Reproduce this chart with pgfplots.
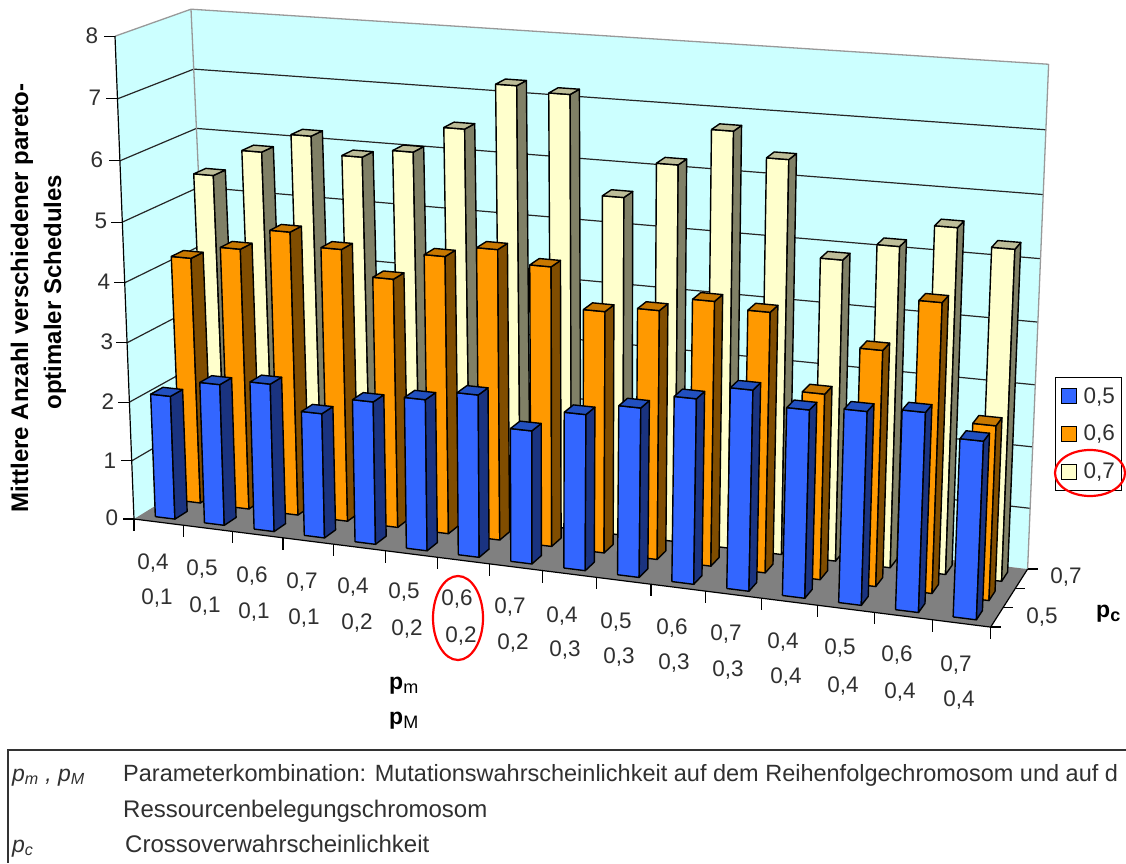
\documentclass[border=0pt]{standalone}
\usepackage{pgfplots}
\usepackage{pgfplotstable}
\usepackage{fontspec}
\setmainfont{Liberation Sans}
\pgfplotsset{compat=1.18}
\definecolor{wallc}{HTML}{CCFFFF}
\definecolor{floorc}{HTML}{808080}
\definecolor{bluef}{HTML}{3366FF}
\definecolor{blues}{HTML}{1A3380}
\definecolor{bluet}{HTML}{2250C0}
\definecolor{orf}{HTML}{FF9900}
\definecolor{ors}{HTML}{804D00}
\definecolor{ort}{HTML}{C87800}
\definecolor{crf}{HTML}{FFFFCC}
\definecolor{crs}{HTML}{808066}
\definecolor{crt}{HTML}{BDBD98}
\definecolor{txt}{HTML}{303030}
% heights: u = category index
\pgfplotstableread{
u blue orange cream
0 2.10 4.20 5.39
1 2.39 4.43 5.85
2 2.49 4.79 6.18
3 2.09 4.58 5.90
4 2.38 4.17 6.05
5 2.51 4.62 6.49
6 2.68 4.81 7.25
7 2.19 4.61 7.17
8 2.55 3.97 5.59
9 2.75 4.07 6.18
10 2.99 4.30 6.78
11 3.22 4.21 6.40
12 3.00 3.00 4.89
13 3.07 3.78 5.18
14 3.15 4.61 5.55
15 2.80 2.78 5.29
}\datatable
% perspective projection of the Excel 3D box: #1 category, #2 depth 0..1, #3 value 0..8
\newcommand\pr[3]{%
 \pgfmathsetmacro\ss{0.0571*(#1)/(1-0.00544*(#1))}%
 \pgfmathsetmacro\vv{#2}%
 \pgfmathsetmacro\ww{0.1197*(#3)/(1-0.00525*(#3))}%
 \pgfmathsetmacro\bx{(1-\ss)*(1-\vv)*134+\ss*(1-\vv)*990+\ss*\vv*1027+(1-\ss)*\vv*212}%
 \pgfmathsetmacro\by{(1-\ss)*(1-\vv)*519+\ss*(1-\vv)*627+\ss*\vv*569+(1-\ss)*\vv*471}%
 \pgfmathsetmacro\tx{(1-\ss)*(1-\vv)*115+\ss*(1-\vv)*1012+\ss*\vv*1048+(1-\ss)*\vv*191}%
 \pgfmathsetmacro\ty{(1-\ss)*(1-\vv)*36+\ss*(1-\vv)*99+\ss*\vv*64+(1-\ss)*\vv*9}%
 \pgfmathsetmacro\rx{\bx+(\tx-\bx)*\ww}%
 \pgfmathsetmacro\ry{\by+(\ty-\by)*\ww}%
}
\newcommand\ap[3]{\pr{#1}{#2}{#3}\edef\plist{\plist (\rx,\ry)}}
\newcommand\poly[2]{\edef\tmp{\noexpand\addplot[forget plot,line join=round,#1] coordinates {#2};}\tmp}
\newcommand\drawbar[6]{%
 \pgfmathsetmacro\ua{#1+0.3}\pgfmathsetmacro\ub{#1+0.7}%
 \pgfmathsetmacro\va{#2-0.08}\pgfmathsetmacro\vb{#2+0.08}%
 \def\plist{}\ap\ua\va{0}\ap\ub\va{0}\ap\ub\va{#3}\ap\ua\va{#3}\ap\ua\va{0}%
 \poly{fill=#4,draw=black,line width=1.4pt}{\plist}%
 \def\plist{}\ap\ub\va{0}\ap\ub\vb{0}\ap\ub\vb{#3}\ap\ub\va{#3}\ap\ub\va{0}%
 \poly{fill=#5,draw=black,line width=1.4pt}{\plist}%
 \def\plist{}\ap\ua\va{#3}\ap\ub\va{#3}\ap\ub\vb{#3}\ap\ua\vb{#3}\ap\ua\va{#3}%
 \poly{fill=#6,draw=black,line width=1.4pt}{\plist}%
}
\newcommand\seg[7]{\def\plist{}\ap{#2}{#3}{#4}\ap{#5}{#6}{#7}\poly{#1}{\plist}}
\newcommand\tck[5]{\pr{#1}{#2}{#3}\pgfmathsetmacro\qx{\rx+(#4)}\pgfmathsetmacro\qy{\ry+(#5)}%
 \edef\plist{(\rx,\ry) (\qx,\qy)}\poly{draw=black,line width=1.2pt}{\plist}}
\newcommand\lab[3]{\node[font=\fontsize{22.5}{22.5}\selectfont,text=txt,inner sep=0pt] at (axis cs:#1,#2) {#3};}
\begin{document}
\begin{tikzpicture}
\path[use as bounding box] (0,0) rectangle (1126pt,863pt);
\begin{axis}[
  at={(0,0)},anchor=south west,
  scale only axis,width=1126pt,height=863pt,
  xmin=0,xmax=1126,ymin=0,ymax=863,y dir=reverse,
  axis lines=none,clip=false,
  legend style={at={(axis cs:1055,377)},anchor=north west,draw=black,line width=1pt,
    fill=white,inner xsep=5pt,inner ysep=8pt,row sep=16.5pt,
    font=\fontsize{22.5}{22.5}\selectfont,text=txt,
    /tikz/every odd column/.append style={column sep=5pt}},
]
\addlegendimage{legend image code/.code={\draw[fill=bluef,draw=black,line width=1pt] (0pt,-7.5pt) rectangle (15pt,7.5pt);}}
\addlegendentry{0,5}
\addlegendimage{legend image code/.code={\draw[fill=orf,draw=black,line width=1pt] (0pt,-7.5pt) rectangle (15pt,7.5pt);}}
\addlegendentry{0,6}
\addlegendimage{legend image code/.code={\draw[fill=crf,draw=black,line width=1pt] (0pt,-7.5pt) rectangle (15pt,7.5pt);}}
\addlegendentry{0,7}
% walls and floor
\def\plist{}\ap{0}{0}{0}\ap{0}{1}{0}\ap{0}{1}{8}\ap{0}{0}{8}\ap{0}{0}{0}\poly{fill=wallc,draw=none}{\plist}
\def\plist{}\ap{0}{1}{0}\ap{16}{1}{0}\ap{16}{1}{8}\ap{0}{1}{8}\ap{0}{1}{0}\poly{fill=wallc,draw=none}{\plist}
\def\plist{}\ap{0}{0}{0}\ap{16}{0}{0}\ap{16}{1}{0}\ap{0}{1}{0}\ap{0}{0}{0}\poly{fill=floorc,draw=none}{\plist}
% gridlines
\pgfplotsinvokeforeach{1,...,7}{%
 \seg{draw=black!85,line width=1.2pt}{0}{0}{#1}{0}{1}{#1}%
 \seg{draw=black!85,line width=1.2pt}{0}{1}{#1}{16}{1}{#1}%
}
\seg{draw=black!40,line width=1.3pt}{0}{0}{8}{0}{1}{8}
\seg{draw=black!40,line width=1.3pt}{0}{1}{8}{16}{1}{8}
\seg{draw=black!40,line width=1.3pt}{0}{1}{0}{0}{1}{8}
\seg{draw=black!40,line width=1.3pt}{16}{1}{0}{16}{1}{8}
% bars, back row first
\pgfplotsinvokeforeach{0,...,15}{%
 \pgfplotstablegetelem{#1}{cream}\of\datatable
 \let\hh\pgfplotsretval
 \drawbar{#1}{0.8333}{\hh}{crf}{crs}{crt}%
}
\pgfplotsinvokeforeach{0,...,15}{%
 \pgfplotstablegetelem{#1}{orange}\of\datatable
 \let\hh\pgfplotsretval
 \drawbar{#1}{0.5}{\hh}{orf}{ors}{ort}%
}
\pgfplotsinvokeforeach{0,...,15}{%
 \pgfplotstablegetelem{#1}{blue}\of\datatable
 \let\hh\pgfplotsretval
 \drawbar{#1}{0.1667}{\hh}{bluef}{blues}{bluet}%
}
% box edges and ticks
\seg{draw=black,line width=1.2pt}{0}{0}{0}{0}{0}{8}
\seg{draw=black,line width=1.2pt}{0}{0}{0}{16}{0}{0}
\seg{draw=black,line width=1.2pt}{16}{0}{0}{16}{1}{0}
\pgfplotsinvokeforeach{0,...,8}{\tck{0}{0}{#1}{-11}{0}}
\pgfplotsinvokeforeach{0,...,16}{\tck{#1}{0}{0}{0}{12}}
\tck{16}{0}{0}{10}{0}
\tck{16}{0.3333}{0}{10}{0}
\tck{16}{0.6667}{0}{10}{0}
\tck{16}{1}{0}{10}{0}
% value tick labels
\lab{92}{36}{8}\lab{95}{98}{7}\lab{97}{160}{6}\lab{101}{221}{5}\lab{104}{282}{4}
\lab{107}{342}{3}\lab{108}{402}{2}\lab{110}{461}{1}\lab{112}{518}{0}
% category labels
\lab{153}{563}{0,4}\lab{157}{598}{0,1}
\lab{202}{569}{0,5}\lab{205}{606}{0,1}
\lab{252}{576}{0,6}\lab{254}{612}{0,1}
\lab{302}{582}{0,7}\lab{304}{618}{0,1}
\lab{353}{587}{0,4}\lab{357}{623}{0,2}
\lab{404}{592}{0,5}\lab{407}{629}{0,2}
\lab{457}{599}{0,6}\lab{461}{636}{0,2}
\lab{510}{607}{0,7}\lab{513}{643}{0,2}
\lab{562}{616}{0,4}\lab{565}{650}{0,3}
\lab{616}{622}{0,5}\lab{619}{657}{0,3}
\lab{672}{628}{0,6}\lab{674}{663}{0,3}
\lab{726}{634}{0,7}\lab{728}{670}{0,3}
\lab{783}{642}{0,4}\lab{786}{677}{0,4}
\lab{840}{648}{0,5}\lab{843}{686}{0,4}
\lab{897}{655}{0,6}\lab{900}{692}{0,4}
\lab{956}{665}{0,7}\lab{959}{700}{0,4}
\lab{1066}{577}{0,7}\lab{1042}{617}{0,5}
% axis titles
\node[rotate=90,font=\fontsize{24}{24}\selectfont\bfseries,inner sep=0pt] at (axis cs:22,298) {Mittlere Anzahl verschiedener pareto-};
\node[rotate=90,font=\fontsize{24}{24}\selectfont\bfseries,inner sep=0pt] at (axis cs:55,292) {optimaler Schedules};
\node[anchor=west,inner sep=0pt,font=\fontsize{23}{23}\selectfont] at (axis cs:389,686) {\textbf{p}\textsubscript{\fontsize{18}{18}\selectfont m}};
\node[anchor=west,inner sep=0pt,font=\fontsize{23}{23}\selectfont] at (axis cs:389,721) {\textbf{p}\textsubscript{\fontsize{18}{18}\selectfont M}};
\node[anchor=west,inner sep=0pt,font=\fontsize{23}{23}\selectfont] at (axis cs:1096,614) {\textbf{p}\textsubscript{\fontsize{18}{18}\selectfont\bfseries c}};
% red mark round the cell
\draw[red,line width=2.2pt] (axis cs:458,618) ellipse [x radius=25pt,y radius=42pt];
% note table
\draw[black!80,line width=1.2pt] (axis cs:1126,750) -- (axis cs:8,750) -- (axis cs:8,863);
\node[anchor=base west,inner sep=0pt,font=\fontsize{23}{23}\selectfont\itshape,text=txt] at (axis cs:12,781) {p\textsubscript{m} , p\textsubscript{M}};
\node[anchor=base west,inner sep=0pt,font=\fontsize{23.5}{23.5}\selectfont,text=txt] at (axis cs:123,781) {Parameterkombination: Mutationswahrscheinlichkeit auf dem Reihenfolgechromosom und auf d};
\node[anchor=base west,inner sep=0pt,font=\fontsize{24}{24}\selectfont,text=txt] at (axis cs:123,817) {Ressourcenbelegungschromosom};
\node[anchor=base west,inner sep=0pt,font=\fontsize{23}{23}\selectfont\itshape,text=txt] at (axis cs:12,852) {p\textsubscript{c}};
\node[anchor=base west,inner sep=0pt,font=\fontsize{24}{24}\selectfont,text=txt] at (axis cs:125,852) {Crossoverwahrscheinlichkeit};
\end{axis}
\draw[red,line width=2.2pt] (1090pt,390pt) ellipse [x radius=35pt,y radius=23pt];
\end{tikzpicture}
\end{document}
